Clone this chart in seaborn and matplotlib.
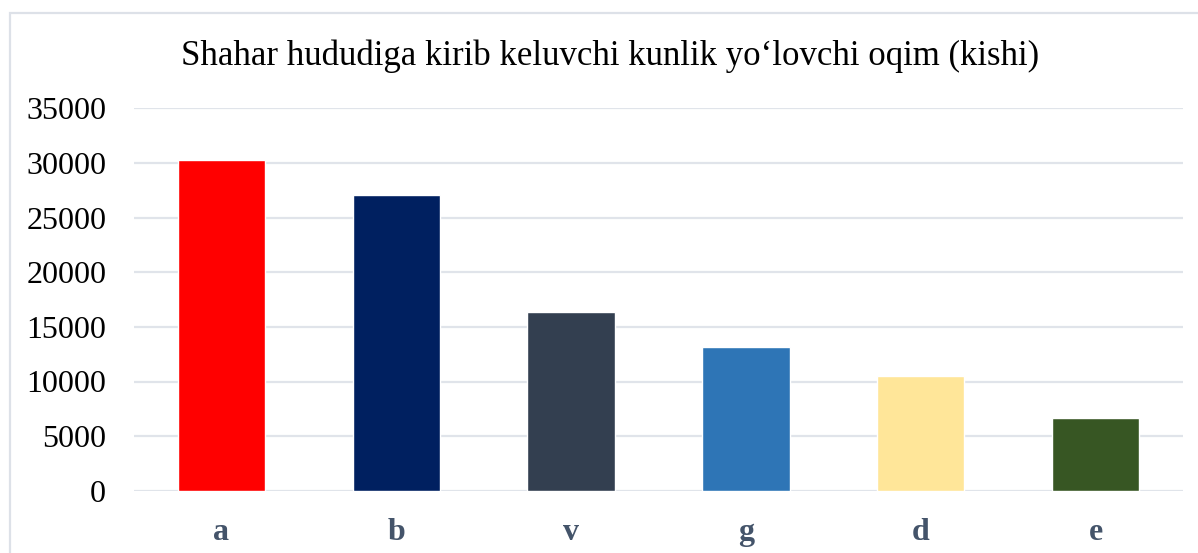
import matplotlib
matplotlib.use("Agg")
import matplotlib.pyplot as plt
import seaborn as sns
import pandas as pd
from matplotlib.patches import Rectangle

# chart data
categories = ["a", "b", "v", "g", "d", "e"]
flow = [30300, 27100, 16400, 13200, 10500, 6700]
bar_colors = ["#FF0000", "#002060", "#333F50", "#2E75B6", "#FFE699", "#375623"]
yticks = [0, 5000, 10000, 15000, 20000, 25000, 30000, 35000]
title = "Shahar hududiga kirib keluvchi kunlik yo\u2018lovchi oqim (kishi)"

sns.set_theme(style="white")
plt.rcParams["font.family"] = ["Liberation Serif", "DejaVu Serif"]

df = pd.DataFrame({"cat": categories, "val": flow})

fig = plt.figure(figsize=(11.98, 5.53), dpi=100)
ax = fig.add_axes([134 / 1198, 1 - 490.7 / 553, (1183 - 134) / 1198, (490.7 - 108.5) / 553])

sns.barplot(data=df, x="cat", y="val", hue="cat", palette=bar_colors,
            legend=False, width=0.5, ax=ax, saturation=1)

ax.set_ylim(0, 35000)
ax.set_xlim(-0.5, len(categories) - 0.5)
ax.set_yticks(yticks)
ax.set_yticklabels([str(t) for t in yticks], fontsize=23, color="black")
ax.tick_params(axis="y", length=0, pad=20)
ax.tick_params(axis="x", length=0, pad=20)
for lbl in ax.get_xticklabels():
    lbl.set_fontsize(23)
    lbl.set_fontweight("bold")
    lbl.set_color("#44546A")
ax.set_xlabel("")
ax.set_ylabel("")
ax.yaxis.grid(True, color="#E0E4EA", linewidth=1.6)
ax.set_axisbelow(True)
for s in ax.spines.values():
    s.set_visible(False)

fig.text(610 / 1198, 1 - 56 / 553, title, ha="center", va="center",
         fontsize=25, color="black")

# light frame around the chart area
fig.patches.append(Rectangle((10 / 1198, -0.1), 1.2, 1.1 - 13 / 553,
                             transform=fig.transFigure, fill=False,
                             edgecolor="#DDE1E8", linewidth=1.6))

fig.savefig("out.png", dpi=100, facecolor="white")
